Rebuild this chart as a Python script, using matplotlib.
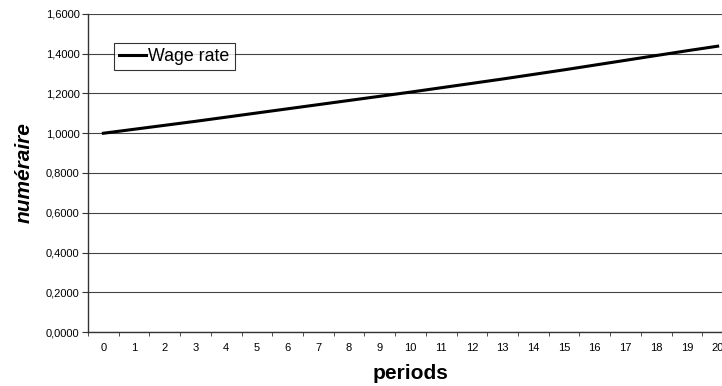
import numpy as np
import matplotlib
matplotlib.use("Agg")
import matplotlib.pyplot as plt
from matplotlib.ticker import FuncFormatter

plt.rcParams['font.family'] = ['Liberation Sans', 'DejaVu Sans']

# data
periods = list(range(0, 21))
wage_rate = [1.000, 1.020, 1.040, 1.060, 1.081, 1.102, 1.123, 1.144, 1.165, 1.186,
             1.207, 1.229, 1.251, 1.273, 1.296, 1.319, 1.343, 1.367, 1.391, 1.415, 1.438]
y_ticks = [0.0, 0.2, 0.4, 0.6, 0.8, 1.0, 1.2, 1.4, 1.6]

fig = plt.figure(figsize=(7.22, 3.86), dpi=100)
# plot area runs past the right edge, as in the reference
ax = fig.add_axes([88 / 722, 54 / 386, 645 / 722, 318 / 386])

ax.plot(periods, wage_rate, color='black', linewidth=2.2, label='Wage rate')

ax.set_xlim(-0.5, 20.5)
ax.set_ylim(0, 1.6)
ax.set_yticks(y_ticks)
ax.yaxis.set_major_formatter(FuncFormatter(lambda v, p: f"{v:.4f}".replace('.', ',')))
ax.grid(axis='y', color='#444444', linewidth=0.8)
ax.set_axisbelow(True)

ax.set_xticks(periods)
ax.set_xticks(np.arange(-0.5, 21, 1), minor=True)
ax.tick_params(axis='x', which='major', length=0, pad=8, labelsize=8)
ax.tick_params(axis='x', which='minor', length=3, direction='out', color='#333333')
ax.tick_params(axis='y', length=4, direction='out', labelsize=8, pad=2, color='#333333')

for s in ['top', 'right']:
    ax.spines[s].set_visible(False)
for s in ['left', 'bottom']:
    ax.spines[s].set_color('#333333')
    ax.spines[s].set_linewidth(1.0)

ax.set_xlabel('periods', fontsize=15, fontweight='bold', labelpad=8)
ax.set_ylabel('numéraire', fontsize=15, fontweight='bold', style='italic', labelpad=9)

leg = ax.legend(loc='upper left', bbox_to_anchor=(0.04, 0.91), fontsize=12.8,
                frameon=True, fancybox=False, handlelength=1.5, handletextpad=0.15,
                borderpad=0.3, borderaxespad=0)
leg.get_frame().set_edgecolor('black')
leg.get_frame().set_linewidth(0.8)

fig.savefig('out.png', dpi=100)
